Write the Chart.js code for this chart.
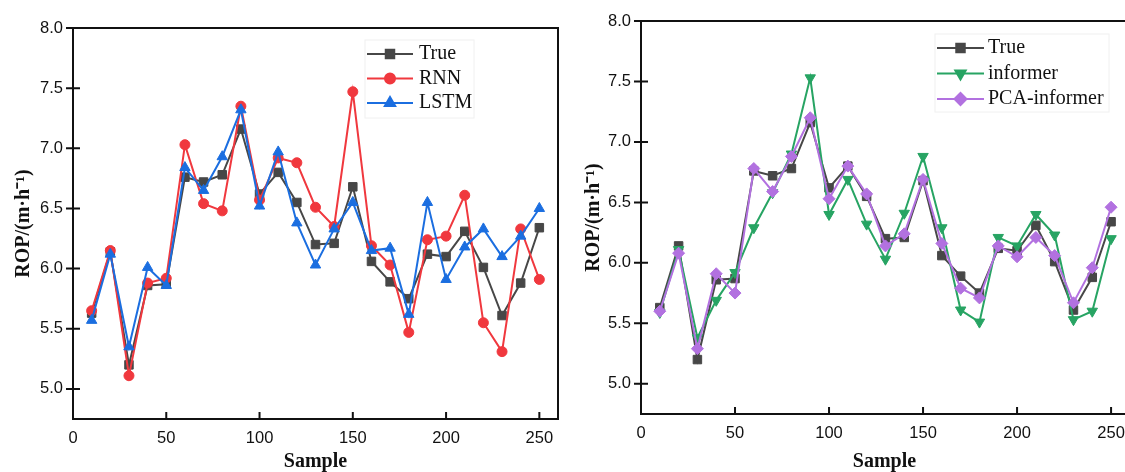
<!DOCTYPE html>
<html>
<head>
<meta charset="utf-8">
<script src="https://cdn.jsdelivr.net/npm/chart.js@4.4.1/dist/chart.umd.min.js"></script>
<style>
  html, body { margin: 0; padding: 0; background: #fff; overflow: hidden; }
  #wrap { position: relative; width: 1125px; height: 472px; overflow: hidden; }
  .panel { position: absolute; top: 0; height: 472px; }
  #leftPanel { left: 0; width: 570px; }
  #rightPanel { left: 570px; width: 600px; }
</style>
</head>
<body>
<div id="wrap">
  <div class="panel" id="leftPanel"><canvas id="rnnChart"></canvas></div>
  <div class="panel" id="rightPanel"><canvas id="informerChart"></canvas></div>
</div>
<script>
// ROP per sample, measured vs. predicted
const samples = [10, 20, 30, 40, 50, 60, 70, 80, 90, 100, 110, 120, 130,
                 140, 150, 160, 170, 180, 190, 200, 210, 220, 230, 240, 250];
const trueRop = [5.63, 6.14, 5.20, 5.86, 5.87, 6.76, 6.72, 6.78, 7.16, 6.62, 6.80, 6.55, 6.20,
                 6.21, 6.68, 6.06, 5.89, 5.75, 6.12, 6.10, 6.31, 6.01, 5.61, 5.88, 6.34];
const rnnRop = [5.65, 6.15, 5.11, 5.88, 5.92, 7.03, 6.54, 6.48, 7.35, 6.57, 6.92, 6.88, 6.51,
                6.35, 7.47, 6.19, 6.03, 5.47, 6.24, 6.27, 6.61, 5.55, 5.31, 6.33, 5.91];
const lstmRop = [5.57, 6.12, 5.35, 6.01, 5.86, 6.84, 6.65, 6.93, 7.32, 6.52, 6.97, 6.38, 6.03,
                 6.33, 6.55, 6.15, 6.17, 5.62, 6.55, 5.91, 6.18, 6.33, 6.10, 6.27, 6.50];
const informerRop = [5.59, 6.11, 5.38, 5.69, 5.92, 6.29, 6.58, 6.90, 7.53, 6.40, 6.69, 6.32, 6.03,
                     6.41, 6.88, 6.29, 5.61, 5.51, 6.21, 6.14, 6.40, 6.23, 5.53, 5.60, 6.20];
const pcaInformerRop = [5.60, 6.08, 5.29, 5.91, 5.75, 6.78, 6.59, 6.88, 7.20, 6.53, 6.80, 6.57, 6.14,
                        6.24, 6.69, 6.16, 5.79, 5.71, 6.14, 6.05, 6.21, 6.06, 5.67, 5.96, 6.46];
const xTicks = [0, 50, 100, 150, 200, 250];
const yTicks = [5.0, 5.5, 6.0, 6.5, 7.0, 7.5, 8.0];

Chart.defaults.font.family = '"Liberation Sans", Arial, sans-serif';
Chart.defaults.color = '#111';

function series(label, values, color, style, radius, order, rotation) {
    return {
        label: label,
        data: samples.map((s, i) => ({ x: s, y: values[i] })),
        borderColor: color,
        backgroundColor: color,
        pointBackgroundColor: color,
        pointBorderColor: color,
        pointBorderWidth: 1,
        pointStyle: style,
        pointRadius: radius,
        pointHoverRadius: radius,
        pointRotation: rotation || 0,
        borderWidth: 2,
        tension: 0,
        order: order
    };
}

// box around the plot + ticks (x inward, y crossing the axis)
const frameTicks = {
    id: 'frameTicks',
    beforeDatasetsDraw(chart) {
        const { ctx, chartArea: a, scales: { x, y } } = chart;
        ctx.save();
        ctx.strokeStyle = '#111';
        ctx.lineWidth = 2;
        ctx.strokeRect(a.left, a.top, a.right - a.left, a.bottom - a.top);
        ctx.beginPath();
        x.ticks.forEach(t => {
            const px = x.getPixelForValue(t.value);
            ctx.moveTo(px, a.bottom);
            ctx.lineTo(px, a.bottom - 7);
        });
        y.ticks.forEach(t => {
            const py = y.getPixelForValue(t.value);
            ctx.moveTo(a.left - 7, py);
            ctx.lineTo(a.left + 7, py);
        });
        ctx.stroke();
        ctx.restore();
    }
};

// legend with a line segment through the marker
const lineLegend = {
    id: 'lineLegend',
    afterDraw(chart, args, opts) {
        const { ctx } = chart;
        ctx.save();
        ctx.strokeStyle = '#f0f0f0';
        ctx.lineWidth = 1;
        ctx.strokeRect(opts.left, opts.top, opts.width, opts.height);
        ctx.font = '20px "Liberation Serif", "Times New Roman", serif';
        ctx.textBaseline = 'middle';
        chart.data.datasets.forEach((d, i) => {
            const yy = opts.top + opts.firstRow + i * opts.rowGap;
            const x0 = opts.left + 2;
            ctx.strokeStyle = d.borderColor;
            ctx.lineWidth = d.borderWidth;
            ctx.beginPath();
            ctx.moveTo(x0, yy);
            ctx.lineTo(x0 + opts.lineLen, yy);
            ctx.stroke();
            ctx.fillStyle = d.pointBackgroundColor;
            Chart.helpers.drawPoint(ctx, {
                pointStyle: d.pointStyle, radius: d.pointRadius,
                rotation: d.pointRotation, borderWidth: 1
            }, x0 + opts.lineLen / 2, yy);
            ctx.fillStyle = '#111';
            ctx.fillText(d.label, opts.left + opts.textX, yy);
        });
        ctx.restore();
    }
};

function makeOptions(xMax, yWidth, xHeight, padTop, padRight, legend) {
    return {
        responsive: true,
        maintainAspectRatio: false,
        animation: false,
        layout: { padding: { top: padTop, right: padRight, left: 0, bottom: 0 } },
        plugins: {
            legend: { display: false },
            tooltip: { enabled: false },
            lineLegend: legend
        },
        scales: {
            x: {
                type: 'linear',
                min: 0,
                max: xMax,
                afterBuildTicks: s => { s.ticks = xTicks.map(v => ({ value: v })); },
                afterFit: s => { s.height = xHeight; },
                grid: { display: false, drawTicks: false },
                border: { display: false },
                ticks: { padding: 10, font: { size: 16.5 } },
                title: {
                    display: true,
                    text: 'Sample',
                    color: '#111',
                    padding: 0,
                    font: { family: '"Liberation Serif", "Times New Roman", serif', size: 20, weight: 'bold', lineHeight: 1 }
                }
            },
            y: {
                type: 'linear',
                min: 4.75,
                max: 8.0,
                afterBuildTicks: s => { s.ticks = yTicks.map(v => ({ value: v })); },
                afterFit: s => { s.width = yWidth; },
                grid: { display: false, drawTicks: false },
                border: { display: false },
                ticks: { padding: 10, font: { size: 16.5 }, callback: v => v.toFixed(1) },
                title: {
                    display: true,
                    text: 'ROP/(m·h⁻¹)',
                    color: '#111',
                    padding: { top: 12, bottom: 0 },
                    font: { family: '"Liberation Serif", "Times New Roman", serif', size: 20, weight: 'bold' }
                }
            }
        }
    };
}

new Chart(document.getElementById('rnnChart'), {
    type: 'line',
    data: {
        datasets: [
            series('True', trueRop, '#474747', 'rect', 6, 3),
            series('RNN', rnnRop, '#f0383e', 'circle', 5, 2),
            series('LSTM', lstmRop, '#1b6ee0', 'triangle', 6, 1)
        ]
    },
    options: makeOptions(260, 73, 53, 28, 12,
        { left: 365, top: 40, width: 109, height: 78, firstRow: 14, rowGap: 24.5, lineLen: 46, textX: 54 }),
    plugins: [frameTicks, lineLegend]
});

new Chart(document.getElementById('informerChart'), {
    type: 'line',
    data: {
        datasets: [
            series('True', trueRop, '#474747', 'rect', 6, 3),
            series('informer', informerRop, '#27a463', 'triangle', 6, 2, 180),
            series('PCA-informer', pcaInformerRop, '#b271e0', 'rectRot', 6, 1)
        ]
    },
    options: makeOptions(259, 71, 58, 21, 42,
        { left: 365, top: 34, width: 174, height: 78, firstRow: 14, rowGap: 25.5, lineLen: 47, textX: 53 }),
    plugins: [frameTicks, lineLegend]
});
</script>
</body>
</html>
